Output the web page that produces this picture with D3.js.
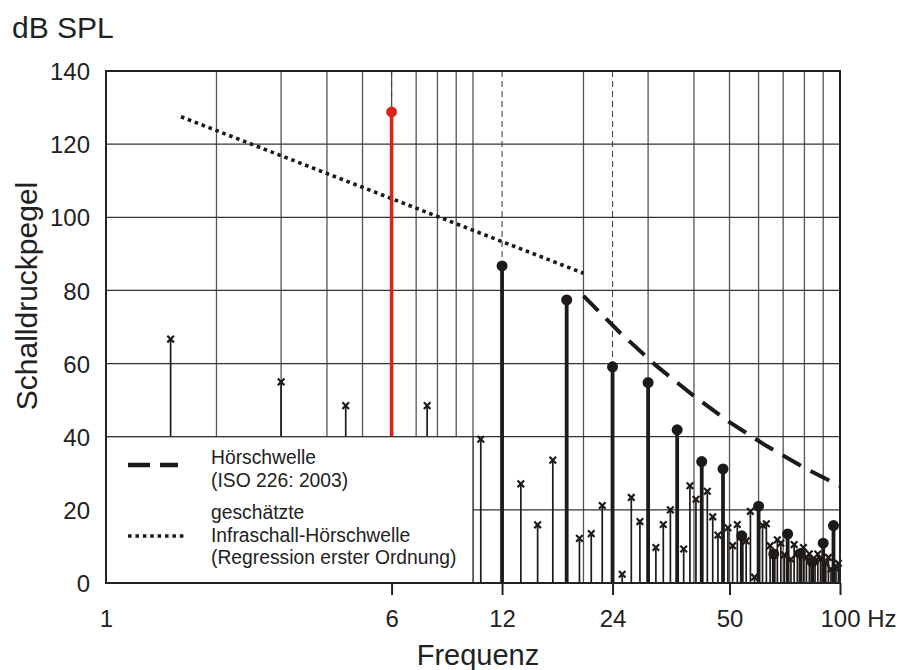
<!DOCTYPE html>
<html>
<head>
<meta charset="utf-8">
<script src="https://cdn.jsdelivr.net/npm/d3@7"></script>
<style>
  html, body { margin: 0; padding: 0; background: #fff; }
  svg { display: block; font-family: "Liberation Sans", Arial, sans-serif; }
</style>
</head>
<body>
<svg id="chart" width="904" height="670"></svg>
<script>
// Fundamental component (Hz, dB SPL)
const fundamentalFreq = [6];
const fundamentalDb = [128.8];

// Harmonics of the fundamental
const harmonicFreq = [12, 18, 24, 30, 36, 42, 48, 54, 60, 66, 72, 78, 84, 90, 96];
const harmonicDb = [86.7, 77.4, 59.1, 54.8, 41.9, 33.2, 31.2, 12.9, 21.0, 7.9, 13.4, 8.1, 5.8, 10.9, 15.7];

// Further spectral lines (1.5 Hz spacing)
const sideFreq = [1.5, 3, 4.5, 7.5, 10.5, 13.5, 15, 16.5, 19.5, 21, 22.5, 25.5, 27, 28.5, 31.5, 33, 34.5,
  37.5, 39, 40.5, 43.5, 45, 46.5, 49.5, 51, 52.5, 55.5, 57, 58.5, 61.5, 63, 64.5, 67.5, 69, 70.5,
  73.5, 75, 76.5, 79.5, 81, 82.5, 85.5, 87, 88.5, 91.5, 93, 94.5, 97.5, 99];
const sideDb = [66.7, 55.0, 48.5, 48.5, 39.3, 27.1, 15.9, 33.6, 12.2, 13.5, 21.2, 2.4, 23.4, 16.8, 9.7, 16.0, 20.0,
  9.3, 26.6, 22.9, 25.1, 18.1, 13.1, 15.1, 10.2, 16.0, 11.5, 19.6, 1.6, 15.8, 16.2, 10.2, 11.8, 10.9, 7.7,
  6.5, 10.5, 8.0, 9.7, 7.0, 8.0, 6.0, 7.9, 6.5, 5.5, 7.0, 3.8, 4.0, 5.4];

// Hearing threshold, ISO 226:2003
const isoFreq = [20, 25, 31.5, 40, 50, 63, 80, 100];
const isoDb = [78.5, 68.7, 59.5, 51.1, 44.0, 37.5, 31.5, 26.5];

// Estimated infrasound threshold (first-order regression)
const regressionFreq = [1.6, 20];
const regressionDb = [127.5, 84.7];

// Axis ticks and grid
const xTickValues = [1, 6, 12, 24, 50, 100];
const yTickValues = [0, 20, 40, 60, 80, 100, 120, 140];
const gridFreq = [2, 3, 4, 5, 6, 7, 8, 9, 10, 20, 30, 40, 50, 60, 70, 80, 90];
const guideFreq = [6, 12, 24];

const legendItems = [
  { kind: "iso", lines: ["Hörschwelle", "(ISO 226: 2003)"] },
  { kind: "reg", lines: ["geschätzte", "Infraschall-Hörschwelle", "(Regression erster Ordnung)"] }
];

const svg = d3.select("#chart");
const plotLeft = 106, plotRight = 840, plotTop = 71, plotBottom = 583;

const x = d3.scaleLog().domain([1, 100]).range([plotLeft, plotRight]);
const y = d3.scaleLinear().domain([0, 140]).range([plotBottom, plotTop]);

const ink = "#1e1a18";
const red = "#dc2318";

// Grid
const grid = svg.append("g");
grid.selectAll("line.v").data(gridFreq).join("line")
  .attr("class", "v")
  .attr("x1", d => x(d)).attr("x2", d => x(d))
  .attr("y1", plotTop).attr("y2", plotBottom)
  .attr("stroke", "#555").attr("stroke-width", 1.3);
grid.selectAll("line.h").data(yTickValues.filter(v => v > 0 && v < 140)).join("line")
  .attr("class", "h")
  .attr("x1", plotLeft).attr("x2", plotRight)
  .attr("y1", d => y(d)).attr("y2", d => y(d))
  .attr("stroke", "#333").attr("stroke-width", 1.3);

// Dashed guides from the top edge down to the marked components
const allFreq = fundamentalFreq.concat(harmonicFreq);
const allDb = fundamentalDb.concat(harmonicDb);
svg.append("g").selectAll("line").data(guideFreq).join("line")
  .attr("x1", d => x(d)).attr("x2", d => x(d))
  .attr("y1", plotTop)
  .attr("y2", d => y(allDb[allFreq.indexOf(d)]))
  .attr("stroke", "#444").attr("stroke-width", 1.1)
  .attr("stroke-dasharray", "6,4");

// Threshold curves
const line = d3.line().x(d => x(d[0])).y(d => y(d[1]));
svg.append("path")
  .attr("d", line(regressionFreq.map((f, i) => [f, regressionDb[i]])))
  .attr("fill", "none").attr("stroke", ink).attr("stroke-width", 3.6)
  .attr("stroke-dasharray", "3.6,3.8");
svg.append("path")
  .attr("d", line(isoFreq.map((f, i) => [f, isoDb[i]])))
  .attr("fill", "none").attr("stroke", ink).attr("stroke-width", 4)
  .attr("stroke-dasharray", "21,11");

// Side lines with cross markers
const side = sideFreq.map((f, i) => ({ f, db: sideDb[i] }));
const gSide = svg.append("g");
gSide.selectAll("line").data(side).join("line")
  .attr("x1", d => x(d.f)).attr("x2", d => x(d.f))
  .attr("y1", y(0)).attr("y2", d => y(d.db))
  .attr("stroke", ink).attr("stroke-width", 1.7);
const cross = 3.3;
gSide.selectAll("path").data(side).join("path")
  .attr("d", d => {
    const cx = x(d.f), cy = y(d.db);
    return `M${cx - cross},${cy - cross}L${cx + cross},${cy + cross}M${cx - cross},${cy + cross}L${cx + cross},${cy - cross}`;
  })
  .attr("stroke", ink).attr("stroke-width", 2.2);

// Harmonics
const harm = harmonicFreq.map((f, i) => ({ f, db: harmonicDb[i] }));
const gHarm = svg.append("g");
gHarm.selectAll("line").data(harm).join("line")
  .attr("x1", d => x(d.f)).attr("x2", d => x(d.f))
  .attr("y1", y(0)).attr("y2", d => y(d.db))
  .attr("stroke", ink).attr("stroke-width", 3.8);
gHarm.selectAll("circle").data(harm).join("circle")
  .attr("cx", d => x(d.f)).attr("cy", d => y(d.db)).attr("r", 5.5)
  .attr("fill", ink);

// Fundamental
const fund = fundamentalFreq.map((f, i) => ({ f, db: fundamentalDb[i] }));
const gFund = svg.append("g");
gFund.selectAll("line").data(fund).join("line")
  .attr("x1", d => x(d.f)).attr("x2", d => x(d.f))
  .attr("y1", y(0)).attr("y2", d => y(d.db))
  .attr("stroke", red).attr("stroke-width", 3.6);
gFund.selectAll("circle").data(fund).join("circle")
  .attr("cx", d => x(d.f)).attr("cy", d => y(d.db)).attr("r", 5.4)
  .attr("fill", red);

// Legend box over the lower-left corner (1–10 Hz, 0–40 dB)
const lg = svg.append("g");
lg.append("rect")
  .attr("x", x(1)).attr("y", y(40))
  .attr("width", x(10) - x(1)).attr("height", y(0) - y(40))
  .attr("fill", "#fff").attr("stroke", "#333").attr("stroke-width", 1.3);
const lineGap = 22.5;
const blockTop = [464, 519];
legendItems.forEach((item, k) => {
  const sy = k === 0 ? 465 : 536;
  lg.append("line")
    .attr("x1", 128).attr("x2", item.kind === "iso" ? 178 : 184)
    .attr("y1", sy).attr("y2", sy)
    .attr("stroke", ink)
    .attr("stroke-width", item.kind === "iso" ? 4.4 : 3.6)
    .attr("stroke-dasharray", item.kind === "iso" ? "22,10" : "3.6,3.8");
  item.lines.forEach((t, j) => {
    lg.append("text")
      .attr("x", 211).attr("y", blockTop[k] + j * lineGap)
      .attr("font-size", 19.3).attr("fill", "#222")
      .text(t);
  });
});

// Frame
svg.append("rect")
  .attr("x", plotLeft).attr("y", plotTop)
  .attr("width", plotRight - plotLeft).attr("height", plotBottom - plotTop)
  .attr("fill", "none").attr("stroke", "#222").attr("stroke-width", 2);

// X axis
const xAxis = svg.append("g")
  .attr("transform", `translate(0,${plotBottom})`)
  .call(d3.axisBottom(x).tickValues(xTickValues).tickSize(12)
    .tickFormat(d => d === 100 ? "100 Hz" : String(d)));
xAxis.select(".domain").remove();
xAxis.selectAll(".tick line").attr("stroke", "#222").attr("stroke-width", 2)
  .filter(d => d === 1).remove();
xAxis.selectAll(".tick text")
  .attr("y", 44).attr("dy", null)
  .attr("font-size", 24).attr("font-family", "Liberation Sans, Arial, sans-serif")
  .attr("fill", "#222")
  .filter(d => d === 100).attr("text-anchor", "start").attr("x", -20);

// Y axis
const yAxis = svg.append("g")
  .attr("transform", `translate(${plotLeft},0)`)
  .call(d3.axisLeft(y).tickValues(yTickValues).tickSize(0).tickPadding(16));
yAxis.select(".domain").remove();
yAxis.selectAll(".tick text")
  .attr("font-size", 24).attr("font-family", "Liberation Sans, Arial, sans-serif")
  .attr("fill", "#222").attr("dy", "0.36em");

// Titles
svg.append("text").attr("x", 12).attr("y", 38)
  .attr("font-size", 30).attr("fill", "#222").text("dB SPL");
svg.append("text").attr("x", 478).attr("y", 665)
  .attr("text-anchor", "middle").attr("font-size", 29).attr("fill", "#222").text("Frequenz");
svg.append("text")
  .attr("transform", "translate(37,296) rotate(-90)")
  .attr("text-anchor", "middle").attr("font-size", 30).attr("fill", "#222")
  .text("Schalldruckpegel");
</script>
</body>
</html>
